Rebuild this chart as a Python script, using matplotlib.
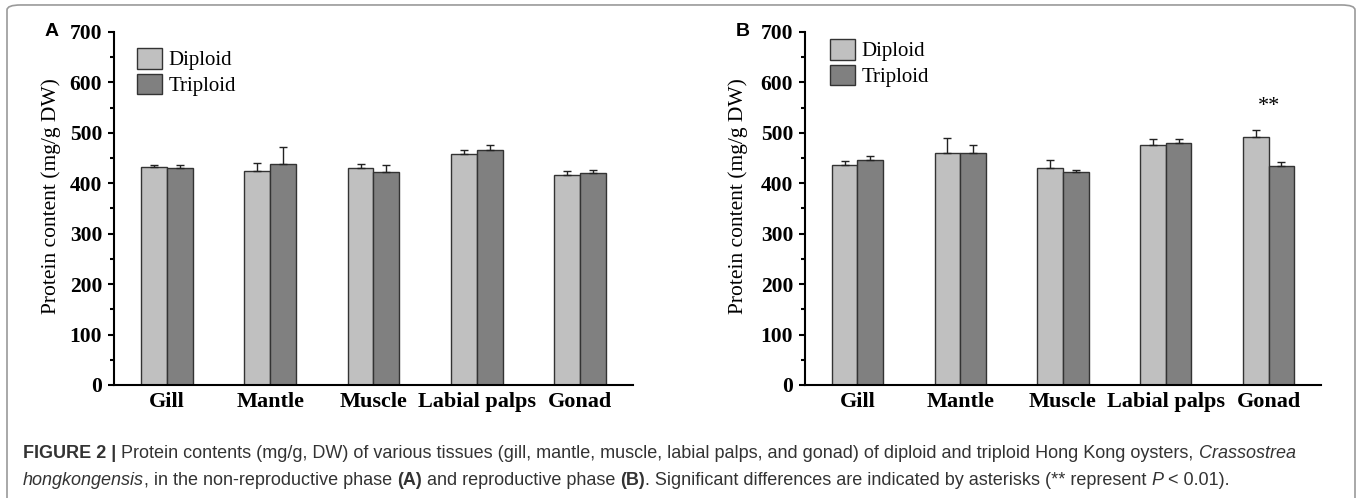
import matplotlib.pyplot as plt
import numpy as np
from matplotlib.patches import FancyBboxPatch

tissues = ['Gill', 'Mantle', 'Muscle', 'Labial palps', 'Gonad']

# panel A: non-reproductive phase
a_diploid = [433, 425, 430, 459, 417]
a_diploid_err = [3, 16, 9, 7, 7]
a_triploid = [430, 438, 423, 466, 420]
a_triploid_err = [7, 33, 14, 9, 7]

# panel B: reproductive phase
b_diploid = [437, 461, 431, 475, 491]
b_diploid_err = [8, 29, 16, 13, 15]
b_triploid = [446, 460, 422, 479, 435]
b_triploid_err = [9, 15, 4, 8, 8]

serif = 'Liberation Serif'
light = '#c0c0c0'
dark = '#808080'
W, H = 1360, 498

fig = plt.figure(figsize=(13.6, 4.98), dpi=100)

# rounded frame round the whole figure
fig.patches.append(FancyBboxPatch((7 / W, -0.05), 1348 / W, 1.04,
                                  boxstyle='round,pad=0,rounding_size=0.01',
                                  transform=fig.transFigure, fill=False,
                                  edgecolor='#9a9a9a', lw=1.2))


def panel(rect, d, de, t, te, letter, leg_xy, ylab_x, stars=False):
    ax = fig.add_axes(rect)
    x = np.arange(len(tissues))
    w = 0.25
    ekw = dict(lw=1, capsize=3, capthick=1, ecolor='#222222')
    ax.bar(x - w / 2, d, w, color=light, edgecolor='#333333', lw=1,
           yerr=[np.zeros(len(d)), de], error_kw=ekw, label='Diploid', zorder=2)
    ax.bar(x + w / 2, t, w, color=dark, edgecolor='#333333', lw=1,
           yerr=[np.zeros(len(t)), te], error_kw=ekw, label='Triploid', zorder=2)
    ax.set_xlim(-0.51, 4.51)
    ax.set_ylim(0, 700)
    ax.set_yticks(range(0, 701, 100))
    ax.set_yticks(range(50, 700, 100), minor=True)
    ax.set_xticks(x)
    ax.set_xticklabels(tissues, fontfamily=serif, fontweight='bold', fontsize=16)
    for lab in ax.get_yticklabels():
        lab.set_fontfamily(serif)
        lab.set_fontweight('bold')
        lab.set_fontsize(15.5)
    ax.tick_params(axis='x', length=0, pad=5)
    ax.tick_params(axis='y', which='major', direction='out', length=4.5, width=1.5, pad=4)
    ax.tick_params(axis='y', which='minor', direction='out', length=3, width=1.5)
    for s in ['top', 'right']:
        ax.spines[s].set_visible(False)
    for s in ['left', 'bottom']:
        ax.spines[s].set_linewidth(1.5)
    ax.set_ylabel('Protein content (mg/g DW)', fontfamily=serif, fontsize=15.5)
    ax.yaxis.set_label_coords(ylab_x, 0.535)
    ax.legend(loc='upper left', bbox_to_anchor=(leg_xy[0] / W, 1 - leg_xy[1] / H),
              bbox_transform=fig.transFigure,
              frameon=False, prop={'family': serif, 'size': 15},
              handlelength=1.2, handleheight=1.15, handletextpad=0.3, labelspacing=0.15,
              borderaxespad=0, borderpad=0)
    ax.text(-0.12, 1.0, letter, transform=ax.transAxes, fontsize=14, fontweight='bold',
            fontfamily='Liberation Sans', ha='center', va='center')
    if stars:
        ax.text(4, d[4] + de[4] + 46, '**', ha='center', va='center', fontsize=16, fontfamily=serif)
    return ax


panel([114 / W, 1 - 385 / H, 519 / W, 353 / H],
      a_diploid, a_diploid_err, a_triploid, a_triploid_err, 'A', (137, 48), -0.102)
panel([805 / W, 1 - 385 / H, 516 / W, 353 / H],
      b_diploid, b_diploid_err, b_triploid, b_triploid_err, 'B', (830, 39), -0.11, stars=True)

# caption, written piece by piece so styles can be mixed
cap_font = 'Liberation Sans'
cap_size = 13
cap_color = '#333333'
line1 = [('FIGURE 2 | ', 'bold', 'normal'),
         ('Protein contents (mg/g, DW) of various tissues (gill, mantle, muscle, labial palps, and gonad) '
          'of diploid and triploid Hong Kong oysters, ', 'normal', 'normal'),
         ('Crassostrea', 'normal', 'italic')]
line2 = [('hongkongensis', 'normal', 'italic'),
         (', in the non-reproductive phase ', 'normal', 'normal'),
         ('(A)', 'bold', 'normal'),
         (' and reproductive phase ', 'normal', 'normal'),
         ('(B)', 'bold', 'normal'),
         ('. Significant differences are indicated by asterisks (** represent ', 'normal', 'normal'),
         ('P', 'normal', 'italic'),
         (' < 0.01).', 'normal', 'normal')]

renderer = fig.canvas.get_renderer()
for parts, ypix in [(line1, 453), (line2, 480)]:
    xpix = 23
    for txt, wt, st in parts:
        t = fig.text(xpix / W, 1 - ypix / H, txt, fontfamily=cap_font, fontsize=cap_size,
                     fontweight=wt, fontstyle=st, color=cap_color, va='center', ha='left')
        xpix += t.get_window_extent(renderer).width

fig.savefig('out.png', dpi=100)
